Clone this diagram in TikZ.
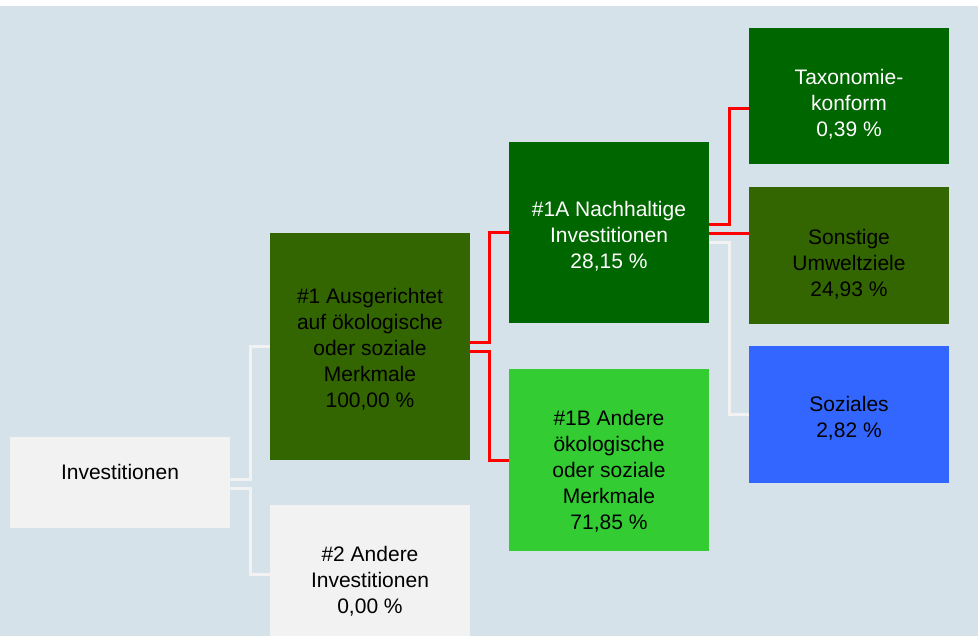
\documentclass[tikz,border=0pt]{standalone}
\usepackage{fontspec}
\setmainfont{Liberation Sans}
\usepackage{xcolor}
\usepackage{tikz}
\usetikzlibrary{positioning}

\definecolor{bgblue}{HTML}{D6E2EA}
\definecolor{boxgrey}{HTML}{F2F2F2}
\definecolor{darkgreen}{HTML}{006600}
\definecolor{olivegreen}{HTML}{336600}
\definecolor{lightgreen}{HTML}{33CC33}
\definecolor{socialblue}{HTML}{3366FF}

\begin{document}
\begin{tikzpicture}[x=1pt, y=-1pt,
  box/.style={rectangle, draw=none, inner sep=0pt, minimum width=200pt},
  txt/.style={align=center, inner sep=0pt, font=\fontsize{21}{26}\selectfont},
  redline/.style={color=red, line width=3pt},
  greyline/.style={color=boxgrey, line width=3pt}]
\clip (0,0) rectangle (978,636);
\fill[bgblue] (0,6) rectangle (978,636);

\node[box, fill=boxgrey, minimum width=220pt, minimum height=91pt] (inv) at (120,482.5) {};
\node[box, fill=olivegreen, minimum height=227pt] (a1) at (370,346.5) {};
\node[box, fill=boxgrey, minimum height=138pt] (a2) at (370,574) {};
\node[box, fill=darkgreen, minimum height=181pt] (a1a) at (609,232.5) {};
\node[box, fill=lightgreen, minimum height=182pt] (a1b) at (609,460) {};
\node[box, fill=darkgreen, minimum height=136pt] (tax) at (849,96) {};
\node[box, fill=olivegreen, minimum height=137pt] (son) at (849,255.5) {};
\node[box, fill=socialblue, minimum height=137pt] (soz) at (849,414.5) {};

\node[txt] (inv-txt) at (120,472) {Investitionen};
\node[txt] (a1-txt) at (370,349.5) {\#1 Ausgerichtet\\auf ökologische\\oder soziale\\Merkmale\\100,00 \%};
\node[txt] (a2-txt) at (370,581.5) {\#2 Andere\\Investitionen\\0,00 \%};
\node[txt, white] (a1a-txt) at (609,236.5) {\#1A Nachhaltige\\Investitionen\\28,15 \%};
\node[txt] (a1b-txt) at (609,471.5) {\#1B Andere\\ökologische\\oder soziale\\Merkmale\\71,85 \%};
\node[txt, white] (tax-txt) at (849,104.5) {Taxonomie-\\konform\\0,39 \%};
\node[txt] (son-txt) at (849,264.5) {Sonstige\\Umweltziele\\24,93 \%};
\node[txt] (soz-txt) at (849,418.5) {Soziales\\2,82 \%};

\draw[greyline] ([yshift=3.5pt]inv.east) -- ++(20,0) |- (a1.west);
\draw[greyline] ([yshift=-5.5pt]inv.east) -- ++(20,0) |- (a2.west);
\draw[redline] ([yshift=3.5pt]a1.east) -- ++(19,0) |- (a1a.west);
\draw[redline] ([yshift=-5.5pt]a1.east) -- ++(19,0) |- (a1b.west);
\draw[redline] ([yshift=7.5pt]a1a.east) -- ++(20,0) |- ([yshift=-13pt]tax.west);
\draw[redline] ([yshift=-1.5pt]a1a.east) -- ([yshift=-1.5pt]a1a.east -| son.west);
\draw[greyline] ([yshift=-10.5pt]a1a.east) -- ++(20,0) |- (soz.west);
\end{tikzpicture}
\end{document}
